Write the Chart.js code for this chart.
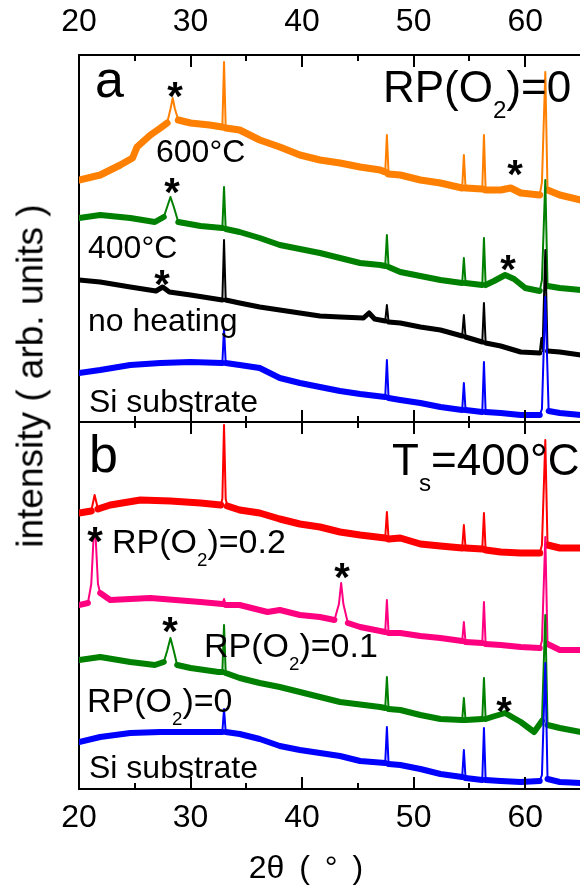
<!DOCTYPE html>
<html>
<head>
<meta charset="utf-8">
<script src="https://cdn.jsdelivr.net/npm/chart.js@4.4.1/dist/chart.umd.min.js"></script>
<style>
  body { margin: 0; background: #fff; }
  #wrap { position: relative; width: 580px; height: 888px; overflow: hidden; }
  #xrd { position: absolute; left: 0; top: 0; }
  .lbl { position: absolute; font-family: 'Liberation Sans', Arial, sans-serif; color: #000; line-height: 1; white-space: nowrap; }
  .lbl sub { font-size: 0.55em; vertical-align: baseline; position: relative; top: 0.68em; line-height: 0; }
  .star { font-weight: bold; transform: translateX(-50%); }
  #ytitle { left: 30px; top: 376px; font-size: 37px; transform: translate(-50%, -50%) rotate(-90deg); }
  #xtitle { left: 306px; font-size: 32px; word-spacing: 6px; transform: translateX(-50%); }
</style>
</head>
<body>
<div id="wrap">
  <canvas id="xrd" width="581" height="888"></canvas>
  <div class="lbl" id="ytitle">intensity ( arb. units )</div>
  <div class="lbl" id="xtitle">2θ ( ° )</div>
</div>
<script>
// 2theta (deg), intensity (arb. units, panel offsets included)
// panel a: RP(O2)=0, different substrate temperatures
const siSubstrateA = [[20,416],[21.9,419],[24.6,424],[27.3,426],[30.0,427],[32.85,426],[33.0,461],[33.15,426],[34.4,424],[36.2,421],[38.0,411],[39.8,406],[41.6,402],[43.4,398],[45.2,395],[47.45,392],[47.6,429],[47.75,391],[48.8,389],[50.6,386],[52.4,382],[54.35,379],[54.5,406],[54.65,379],[56.15,377],[56.3,427],[56.45,377],[57.8,376],[59.6,374],[61.3,374],[61.5,380],[61.8,492],[62.1,378],[63.1,376],[65,374]];
const noHeating = [[20,509],[21.9,507],[24.6,502],[26.9,498],[27.5,502],[28.1,497],[30.0,494],[32.85,489],[33.0,549],[33.15,489],[34.4,486],[36.2,482],[38.0,479],[39.8,476],[41.6,473],[43.4,472],[45.5,471],[46.0,476],[46.5,470],[47.45,468],[47.6,484],[47.75,467],[48.8,466],[50.6,462],[52.4,459],[54.35,453],[54.5,474],[54.65,452],[56.15,447],[56.3,486],[56.45,446],[57.8,443],[59.6,437],[61.3,436],[61.45,451],[61.55,438],[61.8,539],[62.0,438],[63.1,437],[65,434]];
const heated400 = [[20,571],[21.9,574],[24.6,571],[26.8,567],[27.6,572],[27.9,582],[28.2,592],[28.5,582],[28.9,567],[30.9,563],[32.85,561],[33.0,602],[33.15,560],[34.4,557],[36.2,551],[38.0,544],[41.6,536],[45.2,526],[47.0,524],[47.45,523],[47.6,554],[47.75,522],[48.8,517],[50.6,513],[52.4,509],[54.35,506],[54.5,531],[54.65,506],[56.15,504],[56.3,551],[56.45,504],[57.2,508],[58.2,514],[59.0,510],[60.0,501],[61.3,498],[61.5,509],[61.8,609],[62.0,503],[63.1,501],[65,499]];
const heated600 = [[20,609],[21.9,614],[23.7,624],[24.8,631],[25.2,642],[26.4,654],[27.3,661],[27.9,666],[28.2,680],[28.4,691],[28.6,680],[28.9,669],[30.0,666],[31.7,664],[32.85,662],[33.0,727],[33.15,661],[34.4,659],[36.2,649],[38.0,642],[39.8,634],[41.6,629],[43.4,626],[45.2,622],[47.0,619],[47.45,617],[47.6,654],[47.75,615],[48.8,614],[50.6,609],[52.4,606],[54.35,601],[54.5,634],[54.65,601],[56.15,600],[56.3,654],[56.45,599],[57.8,599],[58.7,601],[59.6,596],[61.3,594],[61.5,607],[61.8,717],[62.0,599],[63.1,594],[65,589]];
// panel b: Ts=400 C, different RP(O2)
const siSubstrateB = [[20,47],[21.9,52],[24.6,56],[27.3,57],[30.0,57],[32.85,57],[33.0,80],[33.15,57],[34.4,55],[36.2,50],[38.0,43],[39.8,39],[41.6,36],[43.4,33],[45.2,28],[47.45,26],[47.6,62],[47.75,25],[48.8,24],[50.6,20],[52.4,15],[54.35,12],[54.5,39],[54.65,11],[56.15,9],[56.3,61],[56.45,9],[57.8,8],[59.6,7],[61.3,8],[61.5,14],[61.8,126],[62.0,10],[63.1,7],[65,6]];
const rpo2_0 = [[20,129],[21.9,132],[24.6,127],[26.8,124],[27.6,127],[27.9,138],[28.2,151],[28.5,138],[28.8,124],[30.0,121],[32.5,117],[32.85,117],[33.0,164],[33.15,116],[34.4,111],[36.2,106],[38.0,102],[39.8,97],[43.4,87],[47.0,82],[47.45,81],[47.6,112],[47.75,80],[48.8,79],[50.6,74],[52.4,70],[54.35,69],[54.5,91],[54.65,69],[56.15,70],[56.3,111],[56.45,70],[57.0,72],[58.2,76],[59.6,67],[60.8,57],[61.5,68],[61.8,174],[62.0,64],[63.1,61],[65,57]];
const rpo2_01 = [[20,184],[20.8,186],[21.1,205],[21.3,250],[21.4,259],[21.5,250],[21.7,205],[21.9,196],[22.8,189],[26.4,191],[30.9,187],[32.85,185],[33.0,190],[33.15,184],[34.4,184],[36.9,177],[38.0,179],[39.8,174],[41.6,172],[42.9,169],[43.3,185],[43.5,206],[43.7,185],[44.1,166],[45.2,162],[47.45,157],[47.6,189],[47.75,156],[48.8,156],[50.6,153],[52.4,151],[54.35,148],[54.5,167],[54.65,147],[56.15,146],[56.3,187],[56.45,145],[57.8,144],[59.6,142],[61.3,141],[61.5,148],[61.8,252],[62.0,145],[63.1,139],[65,139]];
const rpo2_02 = [[20,276],[21.1,278],[21.4,294],[21.7,280],[22.8,284],[25.5,289],[28.2,288],[30.9,286],[32.7,284],[32.85,290],[33.0,364],[33.15,290],[33.3,283],[34.4,279],[36.2,276],[38.0,270],[39.8,265],[41.6,262],[43.4,257],[45.2,254],[47.45,251],[47.6,277],[47.75,250],[48.8,251],[50.6,245],[52.4,243],[54.35,241],[54.5,264],[54.65,241],[56.15,240],[56.3,276],[56.45,239],[57.8,237],[59.6,236],[61.3,236],[61.5,244],[61.8,349],[62.0,244],[63.1,241],[65,241]];

const xTickLabels = [20, 30, 40, 50, 60];
const tickMarks = [20, 25, 30, 35, 40, 45, 50, 55, 60];
const yTop = 734;
const panelSplit = 367;

const fontFamily = "'Liberation Sans', Arial, sans-serif";

const toPoints = (arr) => arr.map(([x, y]) => ({ x: x, y: y }));

// noisy scans look like a thick band; sharp peaks stay thin
const series = (data, color, band) => ({
  data: toPoints(data),
  borderColor: color,
  borderWidth: band,
  pointRadius: 0,
  tension: 0,
  fill: false,
  borderJoinStyle: 'round',
  borderCapStyle: 'round',
  segment: {
    borderWidth: (c) => (Math.abs(c.p1.y - c.p0.y) > 2.5 * Math.abs(c.p1.x - c.p0.x) ? 2 : band),
  },
});

// inward tick marks on top, middle and bottom axis lines + the panel divider
const axisTicks = {
  id: 'axisTicks',
  afterDatasetsDraw(chart) {
    const { ctx, chartArea, scales } = chart;
    const mid = scales.y.getPixelForValue(panelSplit);
    ctx.save();
    ctx.strokeStyle = '#000';
    ctx.lineWidth = 2;
    ctx.beginPath();
    ctx.moveTo(chartArea.left, mid);
    ctx.lineTo(chartArea.right, mid);
    tickMarks.forEach((v) => {
      const px = Math.round(scales.x.getPixelForValue(v));
      const len = v % 10 === 0 ? 12 : 6;
      ctx.moveTo(px, chartArea.top);
      ctx.lineTo(px, chartArea.top + len);
      ctx.moveTo(px, mid - len);
      ctx.lineTo(px, mid + len);
      ctx.moveTo(px, chartArea.bottom);
      ctx.lineTo(px, chartArea.bottom - len);
    });
    ctx.stroke();
    ctx.restore();
  },
};

const tickFont = { family: fontFamily, size: 32 };

const xAxis = (position, height, pad) => ({
  type: 'linear',
  position: position,
  min: 20,
  max: 65,
  afterBuildTicks: (scale) => { scale.ticks = xTickLabels.map((v) => ({ value: v })); },
  afterFit: (scale) => { scale.height = height; },
  ticks: { font: tickFont, color: '#000', padding: pad, maxRotation: 0, autoSkip: false },
  grid: { display: false, drawTicks: false },
  border: { display: true, color: '#000', width: 2 },
});

new Chart(document.getElementById('xrd'), {
  type: 'line',
  data: {
    datasets: [
      series(siSubstrateA, '#0000ff', 6),
      series(noHeating, '#000000', 5),
      series(heated400, '#008000', 6),
      series(heated600, '#ff8000', 7),
      series(siSubstrateB, '#0000ff', 6),
      series(rpo2_0, '#008000', 6),
      series(rpo2_01, '#ff0080', 6),
      series(rpo2_02, '#ff0000', 7),
    ],
  },
  options: {
    responsive: false,
    animation: false,
    devicePixelRatio: 1,
    layout: { padding: 0 },
    plugins: { legend: { display: false }, tooltip: { enabled: false } },
    scales: {
      x: xAxis('bottom', 99, 10),
      x2: xAxis('top', 55, 14),
      y: {
        min: 0,
        max: yTop,
        afterFit: (scale) => { scale.width = 79; },
        ticks: { display: false },
        grid: { display: false, drawTicks: false },
        border: { display: true, color: '#000', width: 2 },
      },
    },
  },
  plugins: [axisTicks],
});

// annotations: [html, left, baseline, font size]
const labels = [
  ['a', 95, 97, 52],
  ['b', 89, 472, 52],
  ['RP(O<sub>2</sub>)=0', 383, 102, 44],
  ['T<sub>s</sub>=400°C', 392, 475, 44],
  ['600°C', 156, 162, 32],
  ['400°C', 88, 258, 32],
  ['no heating', 88, 331, 32],
  ['Si substrate', 89, 412, 32],
  ['RP(O<sub>2</sub>)=0.2', 112, 553, 34],
  ['RP(O<sub>2</sub>)=0.1', 204, 657, 34],
  ['RP(O<sub>2</sub>)=0', 87, 712, 34],
  ['Si substrate', 89, 778, 32],
];
// peak markers: [center x, center y]
const stars = [[175, 87], [172, 183], [515, 165], [162, 275], [508, 260], [95, 532], [342, 568], [170, 622], [504, 702]];

const wrap = document.getElementById('wrap');
labels.forEach(([html, left, base, size]) => {
  const el = document.createElement('div');
  el.className = 'lbl';
  el.innerHTML = html;
  el.style.fontSize = size + 'px';
  el.style.left = left + 'px';
  el.style.top = (base - 0.8465 * size) + 'px';
  wrap.appendChild(el);
});
stars.forEach(([cx, cy]) => {
  const size = 40;
  const el = document.createElement('div');
  el.className = 'lbl star';
  el.textContent = '*';
  el.style.fontSize = size + 'px';
  el.style.left = cx + 'px';
  el.style.top = (cy + 0.575 * size - 0.8465 * size) + 'px';
  wrap.appendChild(el);
});
document.getElementById('xtitle').style.top = (878 - 0.8465 * 32) + 'px';
</script>
</body>
</html>
